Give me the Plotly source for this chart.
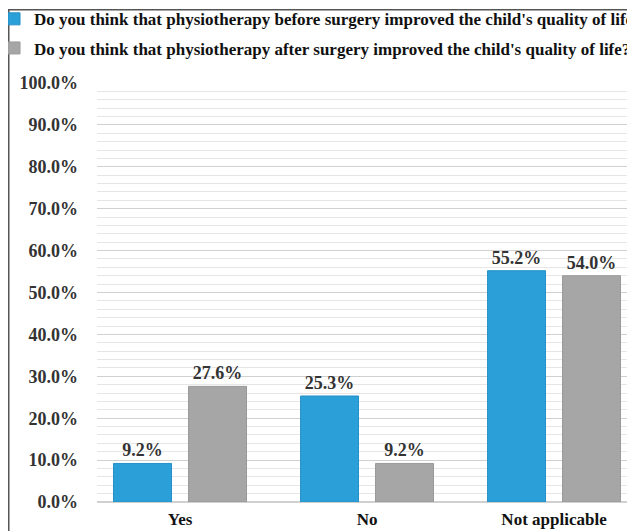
"""Grouped bar chart: physiotherapy and the child's quality of life."""

import plotly.graph_objects as go

CATEGORIES = ["Yes", "No", "Not applicable"]
BEFORE_SURGERY = [9.2, 25.3, 55.2]
AFTER_SURGERY = [27.6, 9.2, 54.0]
SERIES_NAMES = [
    "Do you think that physiotherapy before surgery improved the child's quality of life?",
    "Do you think that physiotherapy after surgery improved the child's quality of life?",
]
Y_TICKS = [0, 10, 20, 30, 40, 50, 60, 70, 80, 90, 100]

FONT = "Liberation Serif, Times New Roman, serif"
BLUE = "#2a9fd8"
GRAY = "#a6a6a6"

fig = go.Figure()
for name, values, color, edge, group in [
    (SERIES_NAMES[0], BEFORE_SURGERY, BLUE, "#2590c6", "a"),
    (SERIES_NAMES[1], AFTER_SURGERY, GRAY, "#999999", "b"),
]:
    fig.add_trace(
        go.Bar(
            x=CATEGORIES,
            y=values,
            name=name,
            legendgroup=group,
            marker={"color": color, "line": {"color": edge, "width": 1}},
            text=[f"{v:.1f}%" for v in values],
            textposition="outside",
            textfont={"family": FONT, "size": 18, "color": "#333333", "weight": "bold"},
            cliponaxis=False,
        )
    )

# the page adds an 8px body margin, so the margins are 8px smaller here
fig.update_layout(
    width=635,
    height=531,
    margin={"l": 89, "r": 8, "t": 75, "b": 37, "autoexpand": False},
    paper_bgcolor="white",
    plot_bgcolor="white",
    barmode="group",
    bargap=0.198,
    bargroupgap=0.227,
    font={"family": FONT, "size": 16, "color": "#333333"},
    showlegend=True,
    legend={
        "x": -0.1914,
        "y": 1.195,
        "xanchor": "left",
        "yanchor": "top",
        "traceorder": "grouped",
        "tracegroupgap": 4,
        "font": {"family": FONT, "size": 17, "color": "#111111", "weight": "bold"},
        "itemwidth": 30,
        "bgcolor": "rgba(0,0,0,0)",
    },
    xaxis={
        "range": [-0.444, 2.433],
        "showgrid": False,
        "showline": False,
        "ticks": "",
        "automargin": False,
        "ticklabelstandoff": 5,
        "tickfont": {"family": FONT, "size": 17, "color": "#111111", "weight": "bold"},
    },
    yaxis={
        "range": [0, 100],
        "automargin": False,
        "tickvals": Y_TICKS,
        "ticktext": [f"{v:.1f}%" for v in Y_TICKS],
        "tickfont": {"family": FONT, "size": 18, "color": "#333333", "weight": "bold"},
        "showgrid": True,
        "gridcolor": "#d0d0d0",
        "gridwidth": 1,
        "minor": {"dtick": 2, "showgrid": True, "gridcolor": "#e6e6e6", "gridwidth": 1},
        "zeroline": True,
        "zerolinecolor": "#d0d0d0",
        "ticklabelstandoff": 18,
    },
)

# outer chart frame (partly cropped in the original picture)
fig.add_shape(
    type="rect",
    xref="paper",
    yref="paper",
    x0=-0.164,
    x1=1.05,
    y0=-0.2,
    y1=1.175,
    line={"color": "#555555", "width": 1.5},
    fillcolor="rgba(0,0,0,0)",
    layer="above",
)

fig.write_html("out.html")
